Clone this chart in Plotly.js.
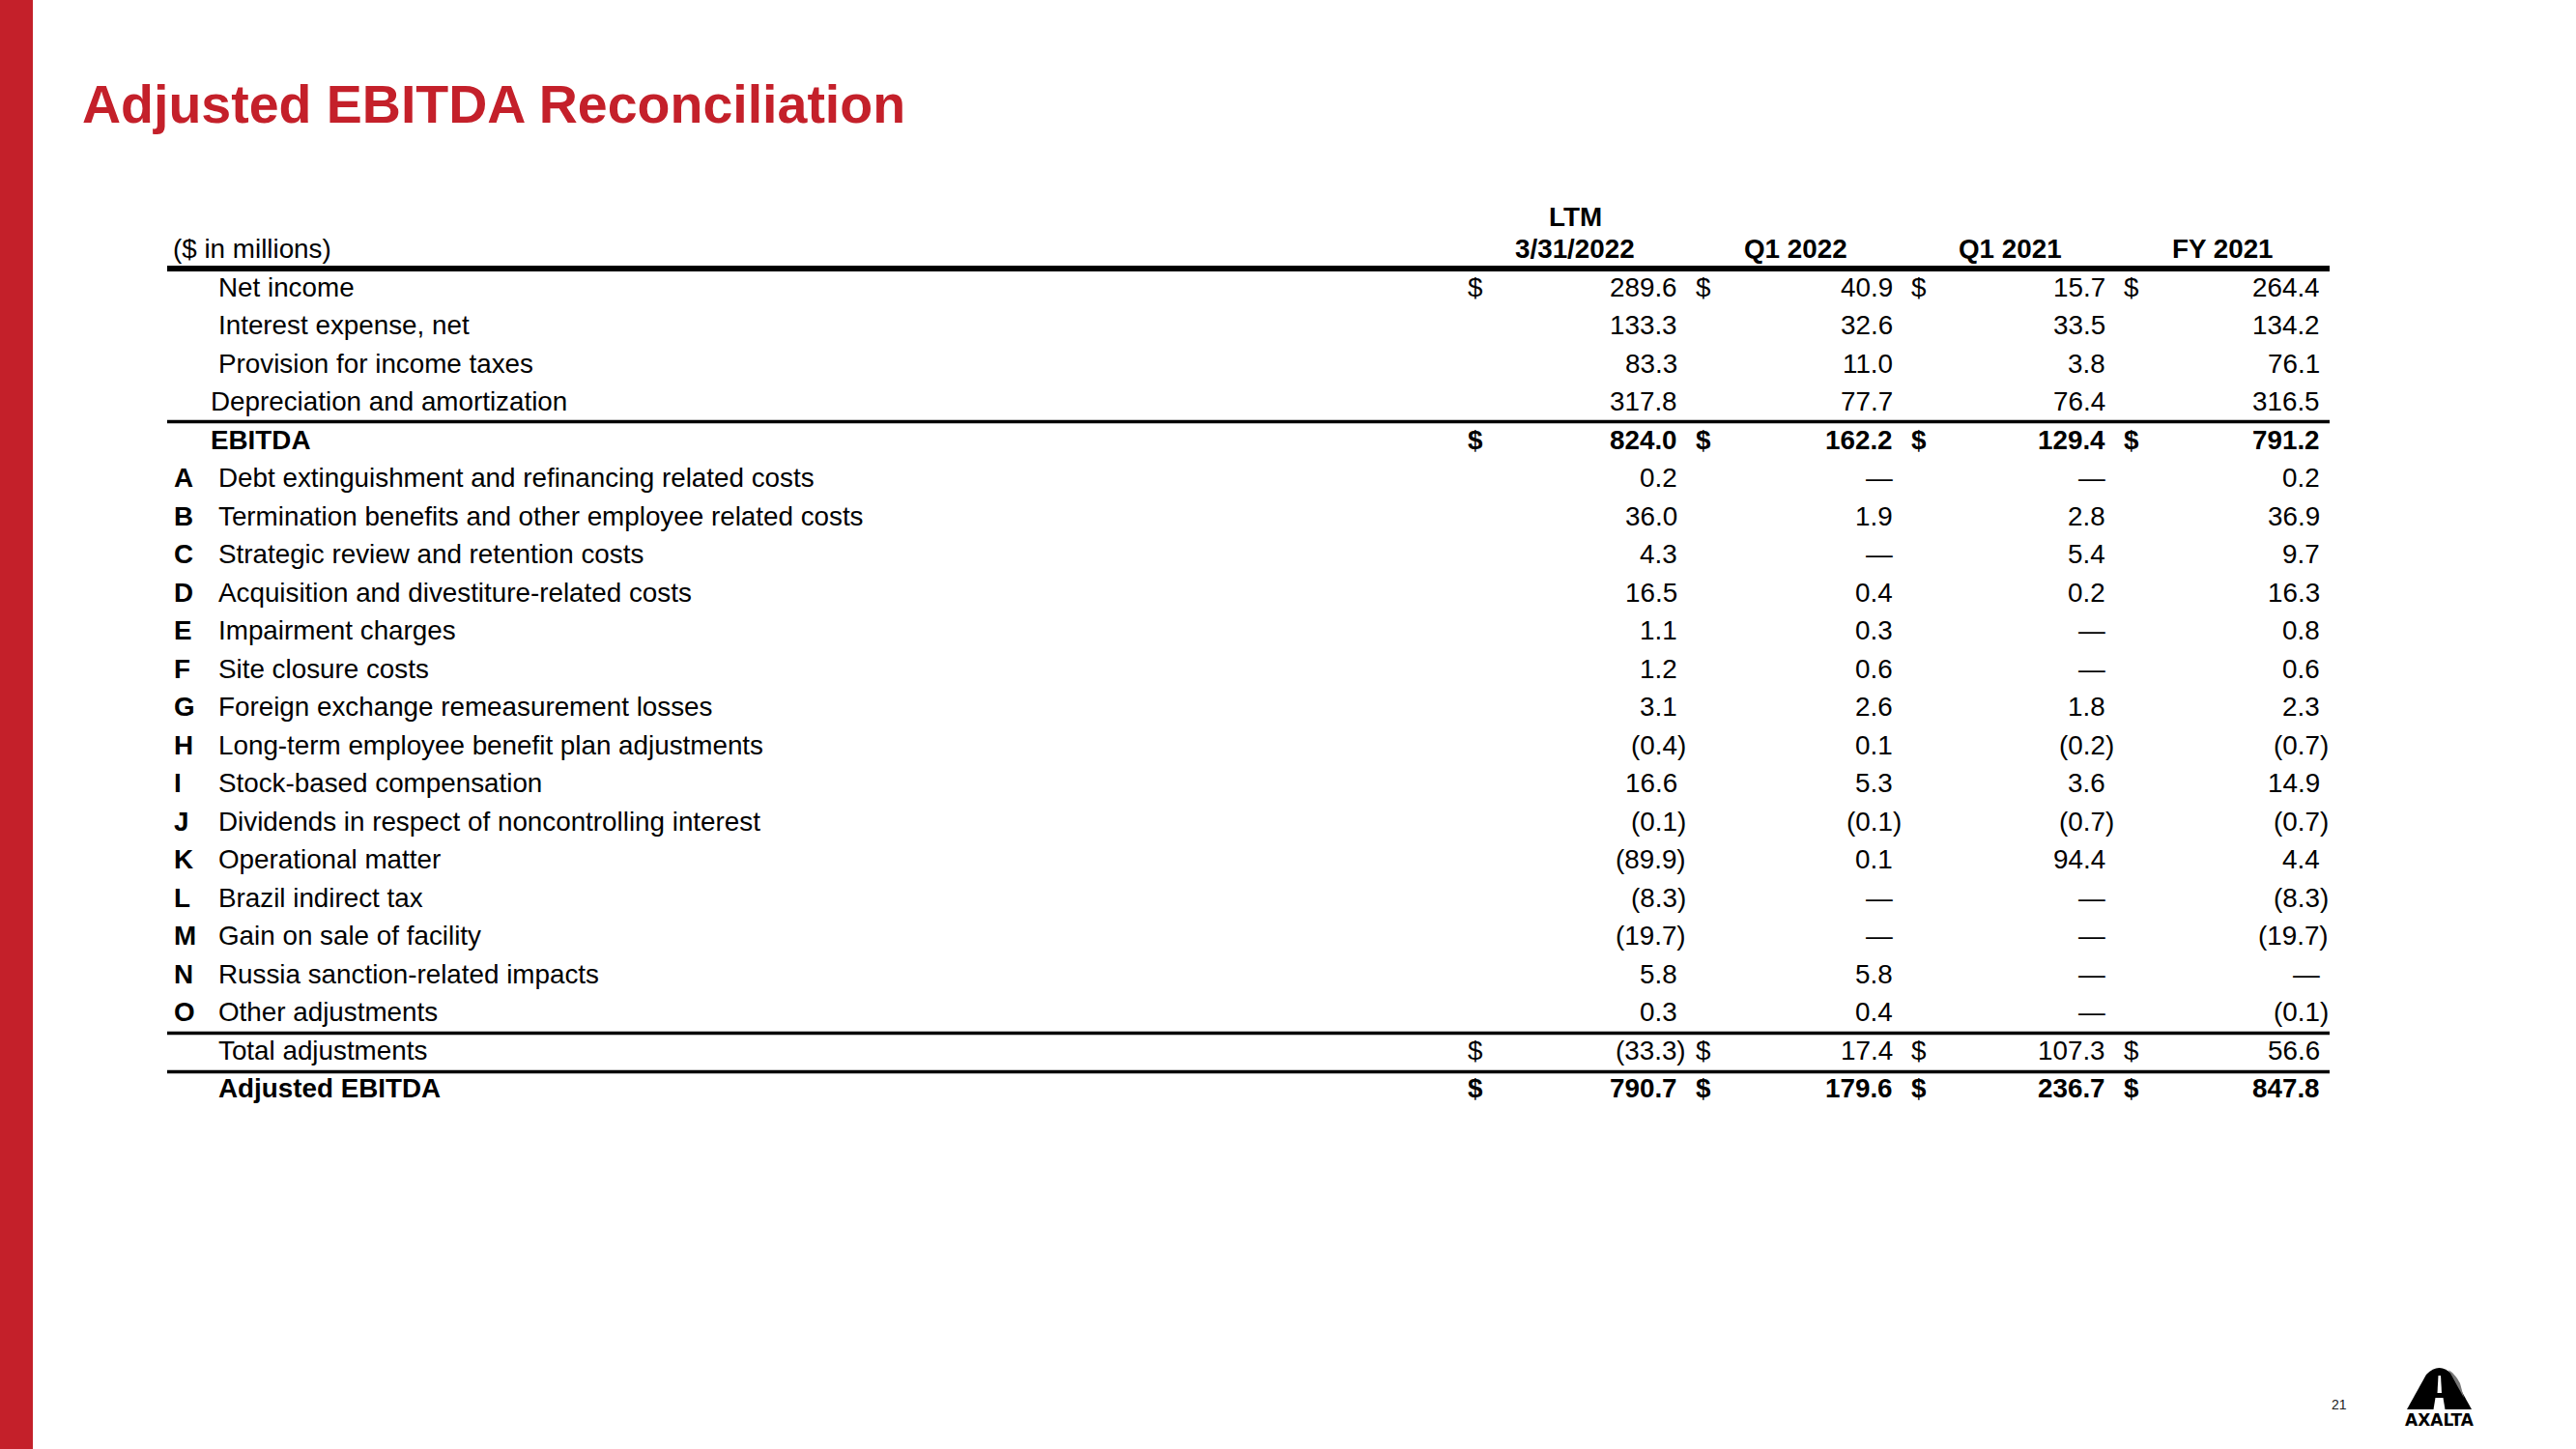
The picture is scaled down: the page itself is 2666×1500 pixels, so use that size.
<!DOCTYPE html>
<html>
<head>
<meta charset="utf-8">
<script src="https://cdn.plot.ly/plotly-3.0.1.min.js"></script>
<style>html,body{margin:0;padding:0;background:#fff;}#chart{width:2666px;height:1500px;}</style>
</head>
<body>
<div id="chart"></div>
<script>
// ---------- DATA ----------
const titleText = "Adjusted EBITDA Reconciliation";
const unitLabel = "($ in millions)";
const headerTop = ["LTM", "", "", ""];
const headerBottom = ["3/31/2022", "Q1 2022", "Q1 2021", "FY 2021"];
const rowLetters = ["", "", "", "", "", "A", "B", "C", "D", "E", "F", "G", "H", "I", "J", "K", "L", "M", "N", "O", "", ""];
const rowLabels = [
  "Net income", "Interest expense, net", "Provision for income taxes", "Depreciation and amortization", "EBITDA",
  "Debt extinguishment and refinancing related costs", "Termination benefits and other employee related costs",
  "Strategic review and retention costs", "Acquisition and divestiture-related costs", "Impairment charges",
  "Site closure costs", "Foreign exchange remeasurement losses", "Long-term employee benefit plan adjustments",
  "Stock-based compensation", "Dividends in respect of noncontrolling interest", "Operational matter",
  "Brazil indirect tax", "Gain on sale of facility", "Russia sanction-related impacts", "Other adjustments",
  "Total adjustments", "Adjusted EBITDA"
];
const ltm2022 = [289.6, 133.3, 83.3, 317.8, 824.0, 0.2, 36.0, 4.3, 16.5, 1.1, 1.2, 3.1, -0.4, 16.6, -0.1, -89.9, -8.3, -19.7, 5.8, 0.3, -33.3, 790.7];
const q1_2022 = [40.9, 32.6, 11.0, 77.7, 162.2, null, 1.9, null, 0.4, 0.3, 0.6, 2.6, 0.1, 5.3, -0.1, 0.1, null, null, 5.8, 0.4, 17.4, 179.6];
const q1_2021 = [15.7, 33.5, 3.8, 76.4, 129.4, null, 2.8, 5.4, 0.2, null, null, 1.8, -0.2, 3.6, -0.7, 94.4, null, null, null, null, 107.3, 236.7];
const fy2021 = [264.4, 134.2, 76.1, 316.5, 791.2, 0.2, 36.9, 9.7, 16.3, 0.8, 0.6, 2.3, -0.7, 14.9, -0.7, 4.4, -8.3, -19.7, null, -0.1, 56.6, 847.8];
const dollarRows = [0, 4, 20, 21];
const boldRows = [4, 21];
const pageNumber = "21";
const logoText = "AXALTA";

// ---------- LAYOUT / STYLE ----------
const W = 2666, H = 1500;
const ROW0 = 297, PITCH = 39.5;
const yTop = -ROW0 / PITCH, yBot = yTop + H / PITCH;
const FONT = "Liberation Sans, Arial, sans-serif";
const FS = 27.8;
const RED = "#C4202A";
const series = [ltm2022, q1_2022, q1_2021, fy2021];
const dollarX = [1519, 1755, 1978, 2198];
const numRightX = [1736, 1959, 2179, 2401];
const headerCX = [1630, 1858, 2080, 2300];
const parenHang = 9;

function fmt(v) {
  if (v === null || v === undefined) return "\u2014";
  if (v < 0) return "(" + Math.abs(v).toFixed(1) + ")";
  return v.toFixed(1);
}
function ann(x, y, text, xanchor, opts) {
  opts = opts || {};
  return {
    xref: "x", yref: "y", x: x, y: y, text: text, showarrow: false,
    xanchor: xanchor, yanchor: "middle", borderpad: 0, borderwidth: 0,
    font: { family: FONT, size: opts.size || FS, color: opts.color || "#000", weight: opts.bold ? 700 : 400 }
  };
}

const annotations = [];
// header
annotations.push(ann(179, -1, unitLabel, "left"));
headerBottom.forEach((h, c) => {
  annotations.push(ann(headerCX[c], -1, h, "center", { bold: true }));
  if (headerTop[c]) annotations.push(ann(headerCX[c], -1 - 33 / PITCH, headerTop[c], "center", { bold: true }));
});
// rows
rowLabels.forEach((lab, r) => {
  const bold = boldRows.includes(r);
  if (rowLetters[r]) annotations.push(ann(180, r, rowLetters[r], "left", { bold: true }));
  const indent = (r === 3 || r === 4) ? 218 : 226;
  annotations.push(ann(indent, r, lab, "left", { bold: bold }));
  series.forEach((s, c) => {
    const v = s[r];
    const t = fmt(v);
    const xr = (v !== null && v < 0) ? numRightX[c] + parenHang : numRightX[c];
    annotations.push(ann(xr, r, t, "right", { bold: bold }));
    if (dollarRows.includes(r)) annotations.push(ann(dollarX[c], r, "$", "left", { bold: bold }));
  });
});
function py(p) { return (p - ROW0) / PITCH; }
// page number & logo text
annotations.push({ xref: "x", yref: "y", x: 2421, y: py(1454), text: pageNumber, showarrow: false,
  xanchor: "center", yanchor: "middle", font: { family: FONT, size: 14, color: "#222" } });
annotations.push({ xref: "x", yref: "y", x: 2525, y: py(1470), text: logoText, showarrow: false,
  xanchor: "center", yanchor: "middle", font: { family: "DejaVu Sans, sans-serif", size: 17, color: "#000", weight: 800 } });

const shapes = [
  // red side bar
  { type: "rect", xref: "x", yref: "paper", x0: 0, x1: 34, y0: 0, y1: 1, fillcolor: RED, line: { width: 0 }, layer: "below" },
  // horizontal rules
  { type: "line", xref: "x", yref: "y", x0: 173, x1: 2411, y0: -0.48, y1: -0.48, line: { color: "#000", width: 6 } },
  { type: "line", xref: "x", yref: "y", x0: 173, x1: 2411, y0: 3.53, y1: 3.53, line: { color: "#000", width: 3.5 } },
  { type: "line", xref: "x", yref: "y", x0: 173, x1: 2411, y0: 19.56, y1: 19.56, line: { color: "#000", width: 3.5 } },
  { type: "line", xref: "x", yref: "y", x0: 173, x1: 2411, y0: 20.57, y1: 20.57, line: { color: "#000", width: 3.5 } },
  // logo arch
  { type: "path", xref: "x", yref: "y",
    path: `M 2491 ${py(1459)} L 2511 ${py(1423)} Q 2524.5 ${py(1409)} 2538 ${py(1423)} L 2558 ${py(1459)} Z`,
    fillcolor: "#000", line: { width: 0 } },
  { type: "path", xref: "x", yref: "y",
    path: `M 2546 ${py(1432)} Q 2541 ${py(1422)} 2534 ${py(1418)} L 2550 ${py(1447)} Z`,
    fillcolor: "#777", line: { width: 0 } },
  { type: "path", xref: "x", yref: "y",
    path: `M 2522.5 ${py(1442)} L 2523.5 ${py(1424)} L 2526 ${py(1424)} L 2527 ${py(1442)} Z`,
    fillcolor: "#fff", line: { width: 0 } },
  { type: "path", xref: "x", yref: "y",
    path: `M 2518.5 ${py(1459)} L 2520.5 ${py(1447)} L 2528.5 ${py(1447)} L 2530.5 ${py(1459)} Z`,
    fillcolor: "#fff", line: { width: 0 } }
];

const layout = {
  width: W, height: H, autosize: false,
  margin: { l: 0, r: 0, t: 0, b: 0, pad: 0 },
  paper_bgcolor: "#fff", plot_bgcolor: "#fff",
  showlegend: false,
  title: {
    text: titleText, x: 85 / W, xanchor: "left", xref: "container",
    y: 1 - 107.5 / H, yanchor: "middle", yref: "container",
    font: { family: FONT, size: 55.5, color: RED, weight: 700 }
  },
  xaxis: { range: [0, W], visible: false, fixedrange: true },
  yaxis: { range: [yBot, yTop], visible: false, fixedrange: true },
  annotations: annotations,
  shapes: shapes
};

Plotly.newPlot("chart", [{ type: "scatter", x: [], y: [], mode: "markers", hoverinfo: "skip" }], layout,
  { displayModeBar: false, staticPlot: true });
</script>
</body>
</html>
